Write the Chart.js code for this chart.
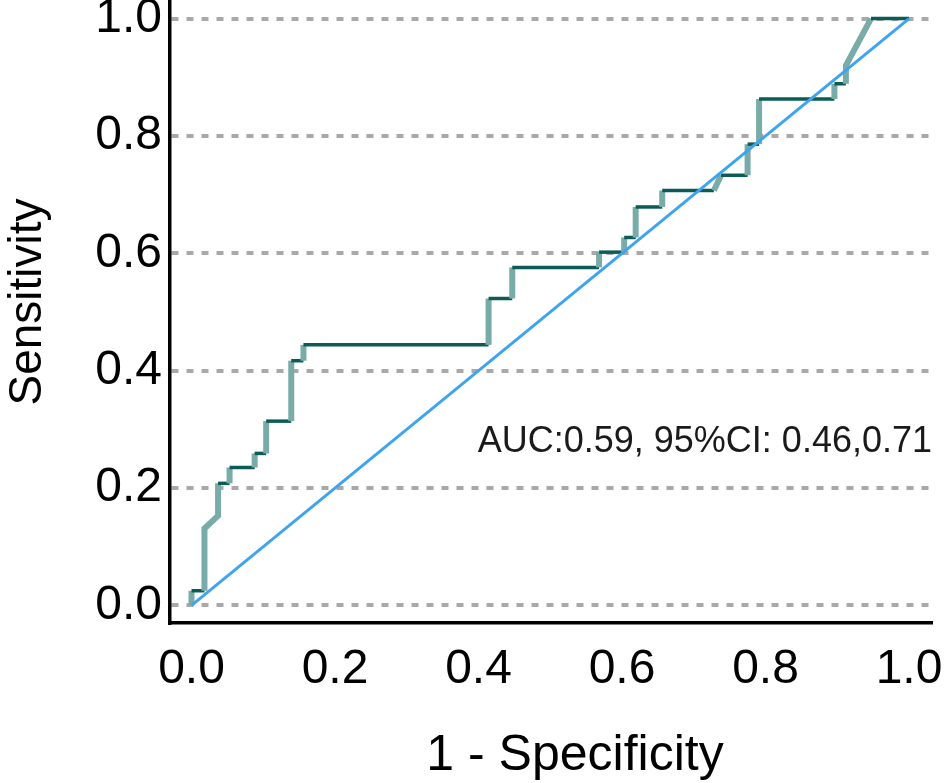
<!DOCTYPE html>
<html>
<head>
<meta charset="utf-8">
<script src="https://cdn.jsdelivr.net/npm/chart.js@4.4.0/dist/chart.umd.min.js"></script>
<style>
  html, body { margin: 0; padding: 0; background: #fff; }
  #roc { display: block; }
</style>
</head>
<body>
<canvas id="roc" width="945" height="783"></canvas>
<script>
// ROC curve vertices
const fpr = [0, 0, 0.018, 0.018, 0.037, 0.037, 0.053, 0.053, 0.088, 0.088,
    0.104, 0.104, 0.139, 0.139, 0.156, 0.156, 0.414, 0.414, 0.447, 0.447,
    0.568, 0.568, 0.603, 0.603, 0.619, 0.619, 0.656, 0.656, 0.728, 0.738,
    0.775, 0.775, 0.791, 0.791, 0.896, 0.896, 0.912, 0.912, 0.947, 1.0];
const tpr = [0, 0.025, 0.025, 0.131, 0.153, 0.208, 0.208, 0.235, 0.235, 0.259,
    0.259, 0.314, 0.314, 0.417, 0.417, 0.444, 0.444, 0.523, 0.523, 0.576,
    0.576, 0.602, 0.602, 0.627, 0.627, 0.679, 0.679, 0.707, 0.707, 0.733,
    0.733, 0.786, 0.786, 0.863, 0.863, 0.889, 0.889, 0.92, 1.0, 1.0];
const refX = [0, 1];
const refY = [0, 1];
const tickVals = [0, 0.2, 0.4, 0.6, 0.8, 1.0];
const aucLabel = 'AUC:0.59, 95%CI: 0.46,0.71';
const xTitle = '1 - Specificity';
const yTitle = 'Sensitivity';

const DARK = '#0b5c56';
const LIGHT = '#79aca8';
const tickFont = { family: "'Liberation Sans Narrow', 'Liberation Sans', Arial, sans-serif", size: 48 };

// annotation + axis titles drawn on the canvas
const textPlugin = {
    id: 'rocText',
    afterDraw(chart) {
        const ctx = chart.ctx;
        const area = chart.chartArea;
        ctx.save();
        ctx.fillStyle = '#1a1a1a';
        ctx.font = '36px "Liberation Sans", Arial, sans-serif';
        ctx.textAlign = 'right';
        ctx.textBaseline = 'alphabetic';
        ctx.fillText(aucLabel, area.right, 452);

        ctx.fillStyle = '#000';
        ctx.font = '50px "Liberation Sans", Arial, sans-serif';
        ctx.textAlign = 'center';
        ctx.textBaseline = 'middle';
        ctx.fillText(xTitle, 575, 756);

        ctx.translate(28, 302);
        ctx.rotate(-Math.PI / 2);
        ctx.font = '46px "Liberation Sans", Arial, sans-serif';
        ctx.fillText(yTitle, 0, 0);
        ctx.restore();
    }
};

const setTicks = scale => { scale.ticks = tickVals.map(v => ({ value: v })); };

new Chart(document.getElementById('roc').getContext('2d'), {
    type: 'scatter',
    data: {
        datasets: [{
            label: 'Reference',
            data: refX.map((x, i) => ({ x: x, y: refY[i] })),
            showLine: true,
            borderColor: '#3ea4f2',
            borderWidth: 3,
            pointRadius: 0
        }, {
            label: 'ROC',
            data: fpr.map((x, i) => ({ x: x, y: tpr[i] })),
            showLine: true,
            borderColor: DARK,
            borderWidth: 3.5,
            pointRadius: 0,
            borderJoinStyle: 'miter',
            segment: {
                borderColor: c => c.p1.parsed.y > c.p0.parsed.y ? LIGHT : DARK,
                borderWidth: c => c.p1.parsed.y > c.p0.parsed.y ? 6 : 3.5
            }
        }]
    },
    options: {
        responsive: false,
        devicePixelRatio: 1,
        animation: false,
        layout: { padding: { top: 1, right: 13, left: 0, bottom: 0 } },
        plugins: { legend: { display: false }, tooltip: { enabled: false } },
        scales: {
            x: {
                type: 'linear',
                min: -0.03,
                max: 1.032,
                afterBuildTicks: setTicks,
                afterFit: s => { s.height = 160; s.paddingLeft = 0; s.paddingRight = 0; },
                grid: { display: false },
                border: { display: true, color: '#000', width: 3.5 },
                ticks: {
                    color: '#000',
                    font: tickFont,
                    padding: 10,
                    maxRotation: 0,
                    callback: v => v.toFixed(1)
                }
            },
            y: {
                type: 'linear',
                min: -0.03,
                max: 1.03,
                afterBuildTicks: setTicks,
                afterFit: s => { s.width = 170; s.paddingTop = 0; s.paddingBottom = 0; },
                grid: { color: '#a9a9a9', lineWidth: 4, drawTicks: false },
                border: { display: true, color: '#000', width: 3.5, dash: [7, 8] },
                ticks: {
                    color: '#000',
                    font: tickFont,
                    padding: 8,
                    callback: v => v.toFixed(1)
                }
            }
        }
    },
    plugins: [textPlugin]
});
</script>
</body>
</html>
